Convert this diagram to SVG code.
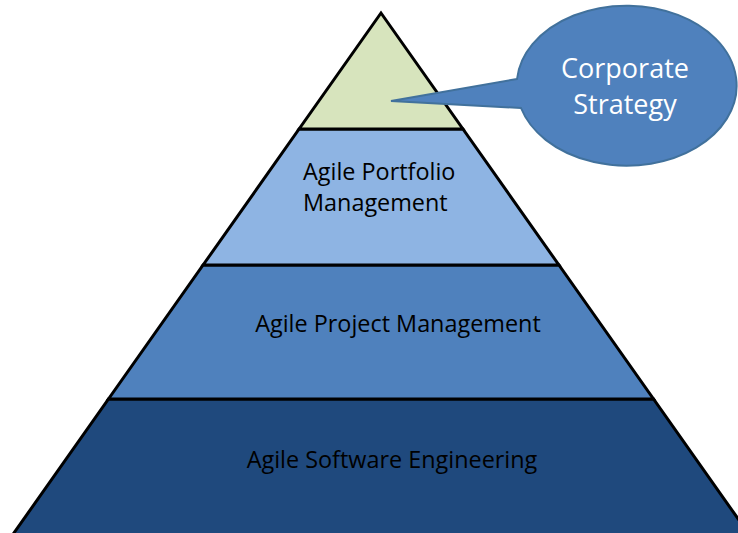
<svg xmlns="http://www.w3.org/2000/svg" width="738" height="533" viewBox="0 0 738 533">
<defs>
<style>
.band{stroke:#000;stroke-width:3;stroke-linejoin:miter}
.lbl{font-family:"Open Sans","Noto Sans","Liberation Sans",sans-serif;font-size:23.4px;fill:#000}
.call{font-family:"Open Sans","Noto Sans","Liberation Sans",sans-serif;font-size:27px;fill:#fff;text-anchor:middle}
</style>
</defs>
<rect width="738" height="533" fill="#fff"/>
<g id="level-engineering">
<polygon class="band" points="108.5,399 653.5,399 760.1,550 1.9,550" fill="#1F497D"/>
<text class="lbl" x="392" y="468" text-anchor="middle">Agile Software Engineering</text>
</g>
<g id="level-project">
<polygon class="band" points="203.1,265 558.9,265 653.5,399 108.5,399" fill="#4F81BD"/>
<text class="lbl" x="398" y="332" text-anchor="middle">Agile Project Management</text>
</g>
<g id="level-portfolio">
<polygon class="band" points="299.1,129 462.9,129 558.9,265 203.1,265" fill="#8EB4E3"/>
<text class="lbl" x="303" y="180">Agile Portfolio</text>
<text class="lbl" x="303" y="211">Management</text>
</g>
<g id="level-strategy">
<polygon class="band" points="381,13 462.9,129 299.1,129" fill="#D7E4BD"/>
</g>
<g id="connectors"></g>
<g id="callout-corporate-strategy">
<path d="M517,79 L391,101 L521,108 A110,80 0 1 0 517,79 Z" fill="#4F81BD" stroke="#41719C" stroke-width="2"/>
<text class="call" x="625" y="78">Corporate</text>
<text class="call" x="625" y="114">Strategy</text>
</g>
</svg>
